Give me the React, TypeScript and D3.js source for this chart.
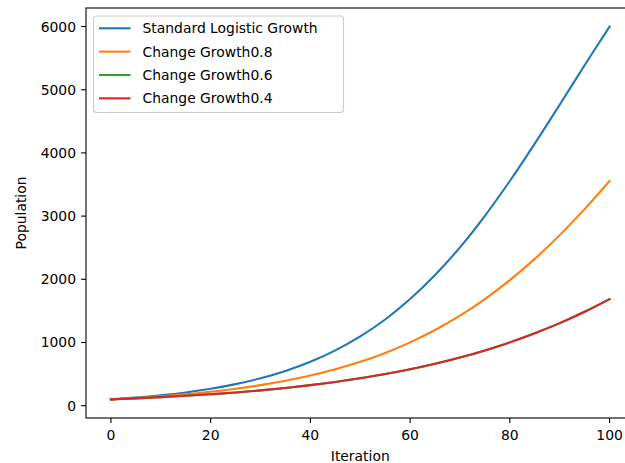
import React, { useRef, useEffect } from 'react'
import * as d3 from 'd3'

// iterations sampled every 5 steps
const iterations = [0, 5, 10, 15, 20, 25, 30, 35, 40, 45, 50, 55, 60, 65, 70, 75, 80, 85, 90, 95, 100]

const standardGrowth = [100, 128, 164, 209, 267, 341, 433, 549, 694, 875, 1096, 1364, 1687, 2067, 2506, 3005, 3555, 4146, 4762, 5387, 5998]
const growth08 = [100, 122, 149, 181, 220, 267, 325, 394, 476, 576, 694, 835, 1002, 1197, 1424, 1687, 1986, 2323, 2699, 3110, 3555]
const growth06 = [100, 116, 135, 156, 181, 209, 242, 281, 325, 375, 433, 500, 576, 663, 762, 875, 1002, 1146, 1307, 1487, 1687]
const growth04 = [100, 116, 135, 156, 181, 209, 242, 281, 325, 375, 433, 500, 576, 663, 762, 875, 1002, 1146, 1307, 1487, 1687]

const seriesNames = ['Standard Logistic Growth', 'Change Growth0.8', 'Change Growth0.6', 'Change Growth0.4']
const seriesColors = ['#1f77b4', '#ff7f0e', '#2ca02c', '#d62728']
const xTicks = [0, 20, 40, 60, 80, 100]
const yTicks = [0, 1000, 2000, 3000, 4000, 5000, 6000]

function App() {
  const chartRef = useRef<SVGSVGElement | null>(null)

  useEffect(() => {
    const width = 625
    const height = 463
    const left = 86
    const right = 634.5
    const top = 8
    const bottom = 418
    const font = 'DejaVu Sans, sans-serif'

    const svg = d3.select(chartRef.current)
    svg.selectAll('*').remove()
    svg.attr('width', width).attr('height', height)

    const allSeries = [standardGrowth, growth08, growth06, growth04]

    // matplotlib style 5% margins
    const xMin = d3.min(iterations)!
    const xMax = d3.max(iterations)!
    const yMin = d3.min(allSeries.flat())!
    const yMax = d3.max(allSeries.flat())!
    const xPad = (xMax - xMin) * 0.05
    const yPad = (yMax - yMin) * 0.05

    const x = d3.scaleLinear().domain([xMin - xPad, xMax + xPad]).range([left, right])
    const y = d3.scaleLinear().domain([yMin - yPad, yMax + yPad]).range([bottom, top])

    svg.append('rect')
      .attr('x', 0).attr('y', 0)
      .attr('width', width).attr('height', height)
      .attr('fill', '#fff')

    const plot = svg.append('g')

    const line = d3.line<number>()
      .x((_, i) => x(iterations[i]))
      .y(d => y(d))
      .curve(d3.curveCatmullRom)

    allSeries.forEach((values, i) => {
      plot.append('path')
        .datum(values)
        .attr('fill', 'none')
        .attr('stroke', seriesColors[i])
        .attr('stroke-width', 2.08)
        .attr('stroke-linecap', 'square')
        .attr('d', line)
    })

    // spines
    svg.append('rect')
      .attr('x', left).attr('y', top)
      .attr('width', right - left).attr('height', bottom - top)
      .attr('fill', 'none')
      .attr('stroke', '#000')
      .attr('stroke-width', 1.1)

    // x ticks
    const xt = svg.append('g')
    xTicks.forEach(t => {
      xt.append('line')
        .attr('x1', x(t)).attr('x2', x(t))
        .attr('y1', bottom).attr('y2', bottom + 4.9)
        .attr('stroke', '#000').attr('stroke-width', 1.1)
      xt.append('text')
        .attr('x', x(t)).attr('y', bottom + 21.5)
        .attr('text-anchor', 'middle')
        .style('font-family', font)
        .style('font-size', '13.9px')
        .attr('fill', '#000')
        .text(t)
    })

    // y ticks
    const yt = svg.append('g')
    yTicks.forEach(t => {
      yt.append('line')
        .attr('x1', left - 4.9).attr('x2', left)
        .attr('y1', y(t)).attr('y2', y(t))
        .attr('stroke', '#000').attr('stroke-width', 1.1)
      yt.append('text')
        .attr('x', left - 10).attr('y', y(t) + 5)
        .attr('text-anchor', 'end')
        .style('font-family', font)
        .style('font-size', '13.9px')
        .attr('fill', '#000')
        .text(t)
    })

    // axis labels
    svg.append('text')
      .attr('x', (left + right) / 2).attr('y', 460.5)
      .attr('text-anchor', 'middle')
      .style('font-family', font)
      .style('font-size', '13.9px')
      .text('Iteration')

    svg.append('text')
      .attr('transform', `translate(26,${(top + bottom) / 2}) rotate(-90)`)
      .attr('text-anchor', 'middle')
      .style('font-family', font)
      .style('font-size', '13.9px')
      .text('Population')

    // legend
    const legend = svg.append('g')
    legend.append('rect')
      .attr('x', 93.5).attr('y', 16)
      .attr('width', 250).attr('height', 96.5)
      .attr('rx', 3).attr('ry', 3)
      .attr('fill', '#fff').attr('fill-opacity', 0.8)
      .attr('stroke', '#cccccc').attr('stroke-width', 1.1)

    seriesNames.forEach((name, i) => {
      const cy = 28.3 + i * 23.35
      legend.append('line')
        .attr('x1', 99).attr('x2', 130.5)
        .attr('y1', cy).attr('y2', cy)
        .attr('stroke', seriesColors[i])
        .attr('stroke-width', 2.08)
      legend.append('text')
        .attr('x', 142.5).attr('y', cy + 5)
        .style('font-family', font)
        .style('font-size', '13.9px')
        .attr('fill', '#000')
        .text(name)
    })
  }, [])

  return (
    <div style={{ position: 'absolute', left: 0, top: 0 }}>
      <svg ref={chartRef} style={{ display: 'block' }}></svg>
    </div>
  )
}

export default App
